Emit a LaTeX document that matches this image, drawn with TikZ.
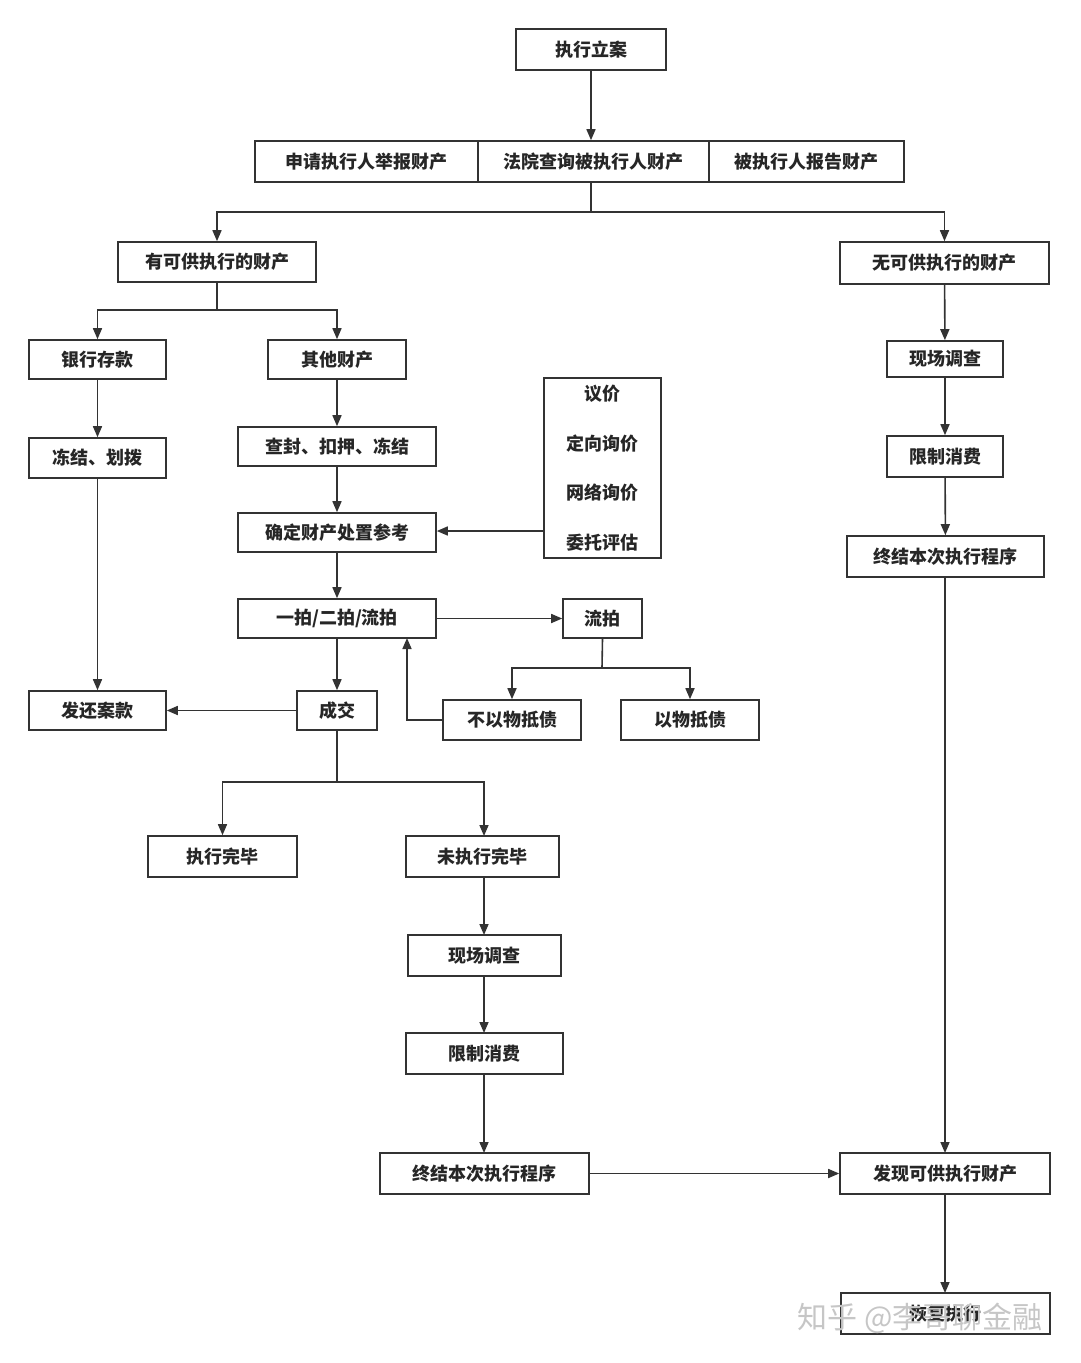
\documentclass[tikz,border=0pt]{standalone}
\usepackage{fontspec}
\setmainfont{Noto Sans CJK SC}
\usetikzlibrary{arrows.meta}
\definecolor{ln}{HTML}{333333}
\begin{document}
\begin{tikzpicture}[x=1pt,y=-1pt,
  bx/.style={draw=ln,line width=1.6pt,inner sep=0pt,font=\fontsize{18}{20}\selectfont\bfseries,text=black!85},
  ar/.style={draw=ln,line width=1.6pt,-{Triangle[length=11pt,width=9pt]}},
  ln/.style={draw=ln,line width=1.6pt}]
\useasboundingbox (0,0) rectangle (1080,1363);
\newcommand\B[6]{\node[bx,minimum width=#4-#2,minimum height=#5-#3] (#1) at ({(#2+#4)/2},{(#3+#5)/2}) {#6};}
\B{a}{516}{29}{666}{70}{执行立案}
\B{t1}{255}{141}{478}{182}{申请执行人举报财产}
\B{t2}{478}{141}{709}{182}{法院查询被执行人财产}
\B{t3}{709}{141}{904}{182}{被执行人报告财产}
\B{y}{118}{242}{316}{282}{有可供执行的财产}
\B{n}{840}{242}{1049}{284}{无可供执行的财产}
\B{bank}{29}{340}{166}{379}{银行存款}
\B{oth}{268}{340}{406}{379}{其他财产}
\B{frz}{29}{438}{166}{478}{冻结、划拨}
\B{seal}{238}{427}{436}{466}{查封、扣押、冻结}
\B{ref}{238}{513}{436}{552}{确定财产处置参考}
\node[bx,minimum width=117,minimum height=180,align=center,font=\fontsize{18}{49.5}\selectfont\bfseries] (yj) at (602.5,468) {议价\\定向询价\\网络询价\\委托评估};
\B{auc}{238}{599}{436}{638}{一拍/二拍/流拍}
\B{lp}{563}{599}{642}{638}{流拍}
\B{nd}{443}{700}{581}{740}{不以物抵债}
\B{wd}{621}{700}{759}{740}{以物抵债}
\B{cj}{297}{691}{377}{730}{成交}
\B{fh}{29}{691}{166}{730}{发还案款}
\B{done}{148}{836}{297}{877}{执行完毕}
\B{nd2}{406}{836}{559}{877}{未执行完毕}
\B{xc}{408}{935}{561}{976}{现场调查}
\B{xf}{406}{1033}{563}{1074}{限制消费}
\B{zj}{380}{1153}{589}{1194}{终结本次执行程序}
\B{fx}{840}{1153}{1050}{1194}{发现可供执行财产}
\B{rxc}{887}{341}{1003}{377}{现场调查}
\B{rxf}{887}{436}{1003}{477}{限制消费}
\B{rzj}{847}{536}{1044}{577}{终结本次执行程序}
\B{hf}{841}{1293}{1050}{1334}{恢复执行}
\draw[ar] (a.south) -- (a.south |- t2.north);
\draw[ln] (a.south |- t2.south) -- (591,212) coordinate (j1);
\draw[ar] (j1) -| (y);
\draw[ar] (j1) -| (n);
\draw[ln] (y.south) -- (217,310) coordinate (j2);
\draw[ar] (j2) -| (bank);
\draw[ar] (j2) -| (oth);
\draw[ar] (bank) -- (frz);
\draw[ar] (frz) -- (fh);
\draw[ar] (oth) -- (seal);
\draw[ar] (seal) -- (ref);
\draw[ar] (yj.west |- 0,531) -- (ref.east |- 0,531);
\draw[ar] (ref) -- (auc);
\draw[ar] (auc) -- (lp);
\draw[ln] (lp.south) -- (602,668) coordinate (j3);
\draw[ar] (j3) -| (nd);
\draw[ar] (j3) -| (wd);
\draw[ar] (nd.west) -| (407,638);
\draw[ar] (auc.south -| cj) -- (cj);
\draw[ar] (cj) -- (fh);
\draw[ln] (cj.south) -- (337,782) coordinate (j4);
\draw[ar] (j4) -| (done);
\draw[ar] (j4) -| (484,836);
\draw[ar] (484,877) -- (484,935);
\draw[ar] (484,976) -- (484,1033);
\draw[ar] (484,1074) -- (484,1153);
\draw[ar] (zj) -- (fx);
\draw[ar] (n) -- (rxc);
\draw[ar] (rxc) -- (rxf);
\draw[ar] (rxf) -- (rzj);
\draw[ar] (rzj.south -| 945,0) -- (945,1153);
\draw[ar] (945,1194) -- (945,1293);
\node[text=gray!45,font=\fontsize{30}{32}\selectfont,anchor=center] (wm) at (920,1318) {知乎 @李哥聊金融};
\end{tikzpicture}
\end{document}
